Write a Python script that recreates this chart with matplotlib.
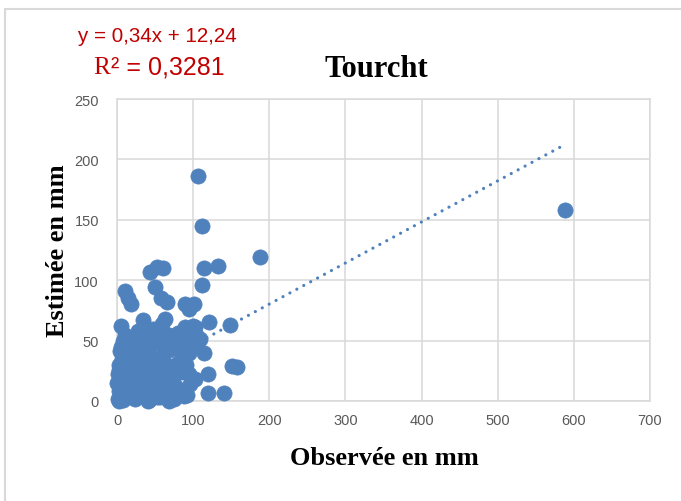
import matplotlib
matplotlib.use("Agg")
import matplotlib.pyplot as plt
from matplotlib.patches import Rectangle

# ---------------- data ----------------
observed = [106, 111, 188, 588, 114, 133, 111, 43, 52, 60, 50, 58, 66, 10, 14, 18,
            89, 101, 94, 34, 63, 59, 5, 121, 148, 89, 102, 109, 114, 68, 81, 95,
            4, 151, 158, 120, 87, 102, 120, 141, 92, 68, 41,
            1, 2, 0, 1, 2, 3, 4, 5, 6, 7, 8, 9, 3, 10, 12, 14, 15, 16, 18, 19, 20,
            21, 22, 24, 25, 26, 28, 29, 30, 11, 17, 27, 32, 33, 34, 35, 36, 38, 39,
            40, 41, 42, 43, 44, 45, 46, 46, 49, 47, 50, 52, 53, 54, 56, 57, 58, 60,
            61, 62, 64, 65, 66, 68, 69, 71, 72, 74, 75, 77, 78, 80, 82, 84, 85, 88,
            90, 92, 95, 98, 104, 100, 96,
            5, 8, 13, 23, 31, 27, 37, 42, 51, 55, 62, 63, 67, 70, 73, 80, 83, 86,
            94, 97, 13, 23, 33, 38, 48, 56, 75, 62, 30, 16, 6, 10, 52]
estimated = [186, 145, 119, 158, 110, 112, 96, 107, 111, 110, 94, 85, 82, 91, 85, 80,
             80, 80, 76, 67, 68, 64, 62, 65, 63, 61, 61, 51, 40, 43, 43, 40,
             41, 29, 28, 22, 25, 18, 7, 7, 5, 0, 0,
             2, 8, 15, 22, 26, 30, 12, 5, 18, 35, 1, 28, 0, 10, 3, 14, 22, 32, 6, 40, 18,
             28, 50, 2, 12, 36, 24, 45, 8, 55, 48, 58, 16, 30, 52, 4, 40, 22, 10,
             47, 33, 1, 18, 56, 27, 8, 34, 14, 60, 22, 3, 30, 52, 12, 25, 58, 6,
             33, 18, 47, 27, 10, 55, 2, 20, 29, 8, 50, 27, 12, 56, 32, 24, 48, 4,
             30, 52, 58, 45, 55, 62, 14,
             45, 50, 38, 42, 38, 18, 28, 40, 8, 18, 40, 5, 22, 45, 15, 44, 8, 38,
             22, 50, 26, 33, 44, 55, 48, 3, 2, 28, 20, 10, 40, 20, 58]

slope = 0.34
intercept = 12.24
equation_text = "y = 0,34x + 12,24"
r2_text = "² = 0,3281"
title_text = "Tourcht"
xlabel_text = "Observée en mm"
ylabel_text = "Estimée en mm"
x_ticks = [0, 100, 200, 300, 400, 500, 600, 700]
y_ticks = [0, 50, 100, 150, 200, 250]

# ---------------- style ----------------
W, H = 681, 502
blue = "#4F81BD"
grid_c = "#D9D9D9"
tick_c = "#595959"
red = "#C00000"
serif = ["Liberation Serif", "DejaVu Serif"]
sans = ["Liberation Sans", "DejaVu Sans"]

fig = plt.figure(figsize=(W / 100, H / 100), dpi=100)
fig.patch.set_facecolor("white")

# outer chart-area border
fig.patches.append(Rectangle((5 / W, -0.1), 1.2, (H - 10) / H + 0.1,
                             transform=fig.transFigure, fill=False,
                             edgecolor=grid_c, linewidth=1.5))

ax = fig.add_axes([117 / W, 100 / H, (650 - 117) / W, (402 - 100) / H])
ax.set_xlim(0, 700)
ax.set_ylim(0, 250)
ax.set_xticks(x_ticks)
ax.set_yticks(y_ticks)
ax.grid(True, color=grid_c, linewidth=1.1, zorder=0)
ax.set_axisbelow(True)
for s in ax.spines.values():
    s.set_color(grid_c)
    s.set_linewidth(1.1)
ax.tick_params(length=0, colors=tick_c, labelsize=10.5)
ax.tick_params(axis="y", pad=13)
ax.tick_params(axis="x", pad=9)
for lab in ax.get_xticklabels() + ax.get_yticklabels():
    lab.set_family(sans)

# trendline
xmin, xmax = min(observed), max(observed)
ax.plot([xmin, xmax], [slope * xmin + intercept, slope * xmax + intercept],
        color=blue, linewidth=2.3, linestyle=(0, (0.01, 2.45)),
        dash_capstyle="round", zorder=2)

ax.scatter(observed, estimated, s=120, color=blue, edgecolors=blue,
           linewidths=0.5, zorder=3, clip_on=False)

# texts
fig.text(384 / W, (H - 465) / H, xlabel_text, family=serif, fontweight="bold",
         fontsize=19, ha="center", va="baseline")
fig.text(58 / W, (H - 251) / H, ylabel_text, family=serif, fontweight="bold",
         fontsize=19, ha="center", va="center", rotation=90)
fig.text(376 / W, (H - 77) / H, title_text, family=serif, fontweight="bold",
         fontsize=22, ha="center", va="baseline")
fig.text(78 / W, (H - 42) / H, equation_text, family=sans, fontsize=14.8,
         color=red, ha="left", va="baseline")
fig.text(93 / W, (H - 74) / H, "R", family=serif, fontsize=18,
         color=red, ha="left", va="baseline")
fig.text(111 / W, (H - 74) / H, r2_text, family=sans, fontsize=18,
         color=red, ha="left", va="baseline")

fig.savefig("out.png", dpi=100, facecolor="white")
